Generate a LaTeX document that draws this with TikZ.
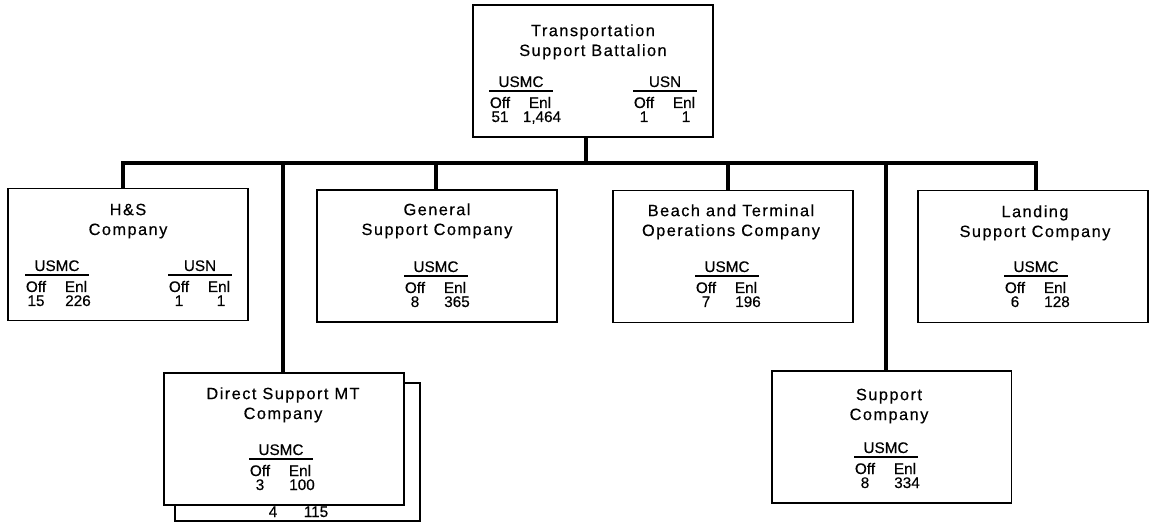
\documentclass[tikz,border=0pt]{standalone}
\usepackage{fontspec}
\setmainfont[FakeBold=0.4]{Liberation Sans}
\newfontfamily\headfont[LetterSpace=9, FakeBold=0.4]{Liberation Sans}
\usetikzlibrary{calc}

\tikzset{
  unitbox/.style={draw, line width=1.1pt, fill=white, minimum width=4.8cm, minimum height=2.64cm, inner sep=0pt},
  link/.style={line width=2.3pt},
  heading/.style={anchor=base, align=center, inner sep=0pt, font=\headfont\fontsize{9.3}{11.3}\selectfont},
  datum/.style={anchor=base, inner sep=0pt, font=\fontsize{8.7}{9}\selectfont},
  rule/.style={line width=0.6pt},
}

% one USMC / USN strength block: prefix, centre x, box top, branch, officers, enlisted
\newcommand{\staff}[6]{%
  \node[datum] (#1br) at (#2,#3+82) {#4};
  \draw[rule] (#2-32,#3+86) -- (#2+32,#3+86);
  \node[datum] (#1oh) at (#2-21,#3+103) {Off};
  \node[datum] (#1eh) at (#2+19,#3+103) {Enl};
  \node[datum] (#1on) at (#2-21,#3+117) {#5};
  \node[datum] (#1en) at (#2+21,#3+117) {#6};
}

\begin{document}
\begin{tikzpicture}[x=0.02cm, y=-0.02cm]
  \useasboundingbox (0,0) rectangle (1152,523);

  % battalion
  \node[unitbox] (tsb) at (593,71) {};
  \node[heading] (tsbt) at (593,56) {Transportation\\Support Battalion};
  \staff{tsbm}{521}{5}{USMC}{51}{1,464}
  \staff{tsbn}{665}{5}{USN}{1}{1}

  % companies, top row
  \node[unitbox] (hs) at (128,254.5) {};
  \node[heading] (hst) at (128,235) {H\&S\\Company};
  \staff{hsm}{57}{189}{USMC}{15}{226}
  \staff{hsn}{200}{189}{USN}{1}{1}

  \node[unitbox] (gs) at (437,256) {};
  \node[heading] (gst) at (437,235) {General\\Support Company};
  \staff{gsm}{436}{190}{USMC}{8}{365}

  \node[unitbox] (bt) at (733,256.5) {};
  \node[heading] (btt) at (731,236) {Beach and Terminal\\Operations Company};
  \staff{btm}{727}{190}{USMC}{7}{196}

  \node[unitbox, minimum width=4.6cm] (ls) at (1033,256.5) {};
  \node[heading] (lst) at (1035,237) {Landing\\Support Company};
  \staff{lsm}{1036}{190}{USMC}{6}{128}

  % companies, bottom row
  \node[unitbox, minimum width=4.9cm, minimum height=2.76cm] (dss) at (297.5,452) {};
  \node[datum] (dss4) at (273,517) {4};
  \node[datum] (dss115) at (316,517) {115};
  \node[unitbox] (ds) at (284,439) {};
  \node[heading] (dst) at (283,419) {Direct Support MT\\Company};
  \staff{dsm}{281}{373}{USMC}{3}{100}

  \node[unitbox] (sc) at (891.5,437) {};
  \node[heading] (sct) at (889,420) {Support\\Company};
  \staff{scm}{886}{371}{USMC}{8}{334}

  % bus and drops
  \coordinate (j0) at (586,163);
  \coordinate (j1) at (123,163);
  \coordinate (j2) at (283,163);
  \coordinate (j3) at (436,163);
  \coordinate (j4) at (728,163);
  \coordinate (j5) at (886,163);
  \coordinate (j6) at (1036,163);
  \draw[link] (hs.north -| j1) |- (j6) -- (ls.north -| j6);
  \draw[link] (tsb.south -| j0) -- (j0);
  \draw[link] (j2) -- (j2 |- ds.north);
  \draw[link] (j3) -- (j3 |- gs.north);
  \draw[link] (j4) -- (j4 |- bt.north);
  \draw[link] (j5) -- (j5 |- sc.north);
\end{tikzpicture}
\end{document}
